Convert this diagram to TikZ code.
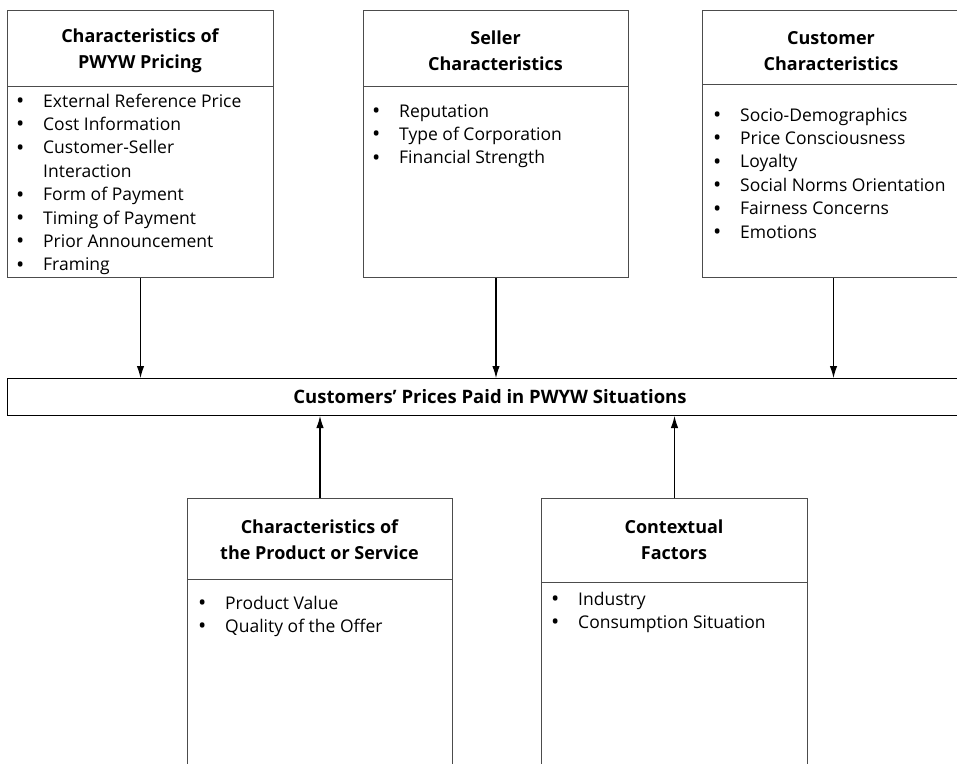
\documentclass[tikz,border=0pt]{standalone}
\usepackage{fontspec}
\setmainfont{Open Sans}
\usetikzlibrary{arrows.meta}
\tikzset{
  box/.style={draw=black!70, line width=1pt, anchor=north west, inner sep=0pt},
  title/.style={align=center, font=\fontsize{18}{26}\selectfont\bfseries, inner sep=0pt},
  items/.style={anchor=base west, inner sep=0pt, font=\fontsize{17.5}{23.4}\selectfont},
  arr/.style={-{Latex[length=12pt,width=7.5pt]}, line width=1.1pt, black},
}
\newcommand{\blist}[1]{\begin{tabular}[t]{@{}p{27pt}@{}l@{}}#1\end{tabular}}
\newcommand{\bul}{\raisebox{-1.5pt}{\fontsize{22}{22}\selectfont •}}
\begin{document}
\begin{tikzpicture}[x=1pt,y=-1pt]
\useasboundingbox (0,0) rectangle (957,763);
\clip (0,0) rectangle (957,763);
% top boxes
\node[box, minimum width=266pt, minimum height=267pt] (b1) at (7,10) {};
\node[box, minimum width=265pt, minimum height=267pt] (b2) at (363,10) {};
\node[box, minimum width=262pt, minimum height=267pt] (b3) at (702,10) {};
\draw[black!70, line width=1pt] (7,86) -- (273,86);
\draw[black!70, line width=1pt] (363,86) -- (628,86);
\draw[black!70, line width=1pt] (702,84) -- (964,84);
\node[title] (t1) at (140,51) {Characteristics of\\PWYW Pricing};
\node[title] (t2) at (495.5,51) {Seller\\Characteristics};
\node[title] (t3) at (831,51) {Customer\\Characteristics};
\node[items] (l1) at (16,107) {\blist{\bul&External Reference Price\\\bul&Cost Information\\\bul&Customer-Seller\\&Interaction\\\bul&Form of Payment\\\bul&Timing of Payment\\\bul&Prior Announcement\\\bul&Framing}};
\node[items] (l2) at (372,117) {\blist{\bul&Reputation\\\bul&Type of Corporation\\\bul&Financial Strength}};
\node[items] (l3) at (713,121) {\blist{\bul&Socio-Demographics\\\bul&Price Consciousness\\\bul&Loyalty\\\bul&Social Norms Orientation\\\bul&Fairness Concerns\\\bul&Emotions}};
% center box
\node[box, draw=black, minimum width=957pt, minimum height=37pt] (c) at (7,378) {};
\node[inner sep=0pt, font=\fontsize{18.5}{20}\selectfont\bfseries] (ct) at (490,397) {Customers’ Prices Paid in PWYW Situations};
% bottom boxes
\node[box, minimum width=265pt, minimum height=300pt] (p1) at (187,498) {};
\node[box, minimum width=266pt, minimum height=300pt] (p2) at (541,498) {};
\draw[black!70, line width=1pt] (187,579) -- (452,579);
\draw[black!70, line width=1pt] (541,582) -- (807,582);
\node[title] (t4) at (319.5,540) {Characteristics of\\the Product or Service};
\node[title] (t5) at (674,540) {Contextual\\Factors};
\node[items] (l4) at (198,609) {\blist{\bul&Product Value\\\bul&Quality of the Offer}};
\node[items] (l5) at (551,605) {\blist{\bul&Industry\\\bul&Consumption Situation}};
% arrows
\draw[arr] (b1.south) -- (b1.south |- c.north);
\draw[arr] (b2.south) -- (b2.south |- c.north);
\draw[arr] (b3.south) -- (b3.south |- c.north);
\draw[arr] (p1.north) -- (p1.north |- c.south);
\draw[arr] (p2.north) -- (p2.north |- c.south);
\end{tikzpicture}
\end{document}
